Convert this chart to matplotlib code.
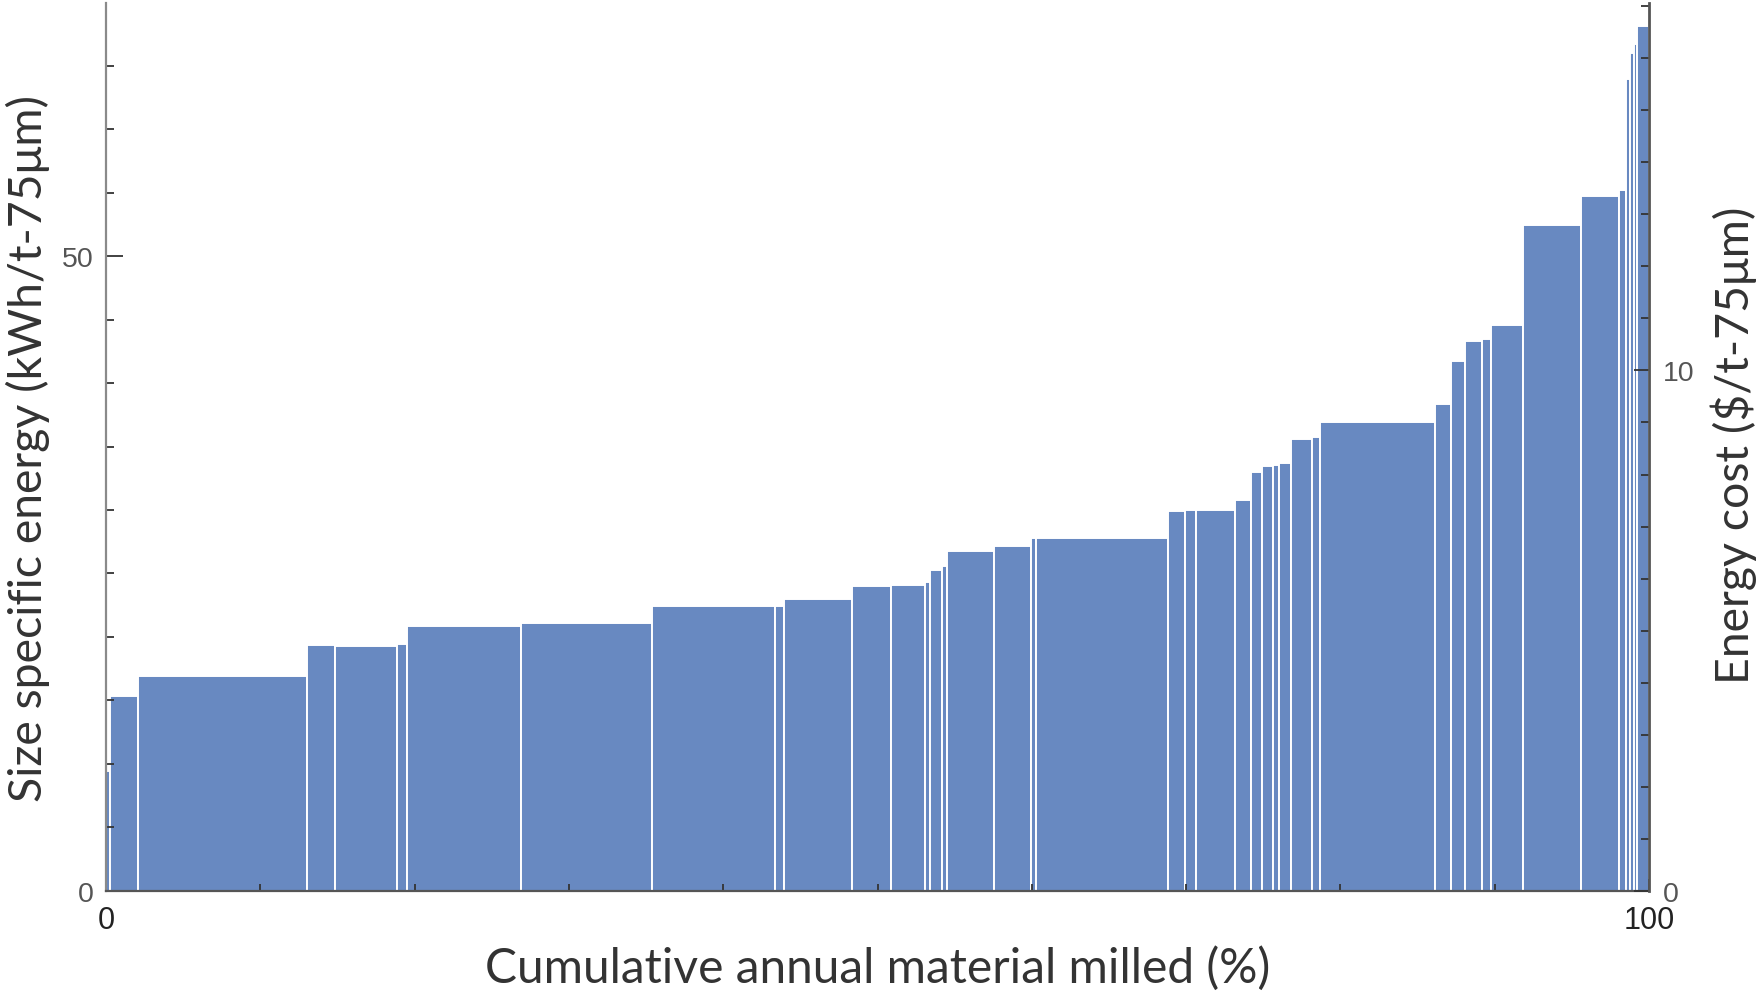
import matplotlib
matplotlib.use("Agg")
import matplotlib.pyplot as plt
import numpy as np
from matplotlib.ticker import MultipleLocator, FixedLocator

# Share of annual material milled per ore (%), sorted by size specific energy
material_share = [0.29, 1.80, 10.92, 1.85, 4.01, 0.65, 7.36, 8.52, 7.94, 0.60,
                  4.41, 2.51, 2.23, 0.34, 0.78, 0.29, 3.03, 2.39, 0.34, 8.57,
                  1.07, 0.75, 2.52, 1.06, 0.67, 0.76, 0.33, 0.80, 1.35, 0.54,
                  7.43, 1.03, 0.96, 1.10, 0.59, 2.02, 3.80, 2.46, 0.46, 0.26,
                  0.27, 0.18, 0.76]
# Size specific energy (kWh/t-75um)
sse = [9.46, 15.37, 16.94, 19.36, 19.31, 19.44, 20.88, 21.07, 22.41, 22.46,
       22.95, 23.99, 24.11, 24.30, 25.27, 25.61, 26.75, 27.19, 27.79, 27.78,
       29.90, 30.02, 30.02, 30.81, 33.02, 33.49, 33.57, 33.68, 35.60, 35.78,
       36.97, 38.39, 41.77, 43.34, 43.48, 44.62, 52.46, 54.77, 55.22, 63.96,
       65.99, 66.70, 68.17]
energy_price = 10 / 41.0   # $/kWh, links the two y axes

x_label = "Cumulative annual material milled (%)"
y_label = "Size specific energy (kWh/t-75\u03bcm)"
y2_label = "Energy cost ($/t-75\u03bcm)"

W, H, DPI = 1762, 995, 100
fig = plt.figure(figsize=(W / DPI, H / DPI), dpi=DPI)
ax = fig.add_axes([106 / W, 1 - 891.7 / H, 1543 / W, (891.7 - 3.5) / H])

share = np.array(material_share)
left_edges = np.concatenate([[0], np.cumsum(share)[:-1]])
scale = 100.0 / share.sum()
ax.bar(left_edges * scale, sse, width=share * scale, align="edge",
       color="#6889c1", edgecolor="white", linewidth=1.4)

ax.set_xlim(0, 100)
ax.set_ylim(0, 70)

label_font = "Lato"
tick_font = "Liberation Sans"

ax.spines["top"].set_visible(False)
ax.spines["right"].set_visible(False)
ax.spines["left"].set_color("#8a8a8a")
ax.spines["left"].set_linewidth(1.6)
ax.spines["bottom"].set_color("#555555")
ax.spines["bottom"].set_linewidth(1.6)

ax.xaxis.set_major_locator(FixedLocator([0, 100]))
ax.xaxis.set_minor_locator(MultipleLocator(10))
ax.yaxis.set_major_locator(FixedLocator([0, 50]))
ax.yaxis.set_minor_locator(FixedLocator([5, 10, 15, 20, 25, 30, 35, 40, 45, 55, 60, 65]))

ax.tick_params(axis="x", which="major", direction="in", length=9, width=1.3,
               color="#333333", pad=10, labelsize=22, labelcolor="#222222")
ax.tick_params(axis="x", which="minor", direction="in", length=5, width=1.3,
               color="#333333")
ax.tick_params(axis="y", which="major", direction="in", length=12, width=1.3,
               color="#333333", pad=9, labelsize=20.5, labelcolor="#555555")
ax.tick_params(axis="y", which="minor", direction="in", length=6, width=1.3,
               color="#333333")
for lab in ax.get_xticklabels() + ax.get_yticklabels():
    lab.set_fontfamily(tick_font)

ax2 = ax.twinx()
ax2.set_ylim(0, 70 * energy_price)
for s in ("top", "left", "bottom"):
    ax2.spines[s].set_visible(False)
ax2.spines["right"].set_color("#555555")
ax2.spines["right"].set_linewidth(2.0)
ax2.yaxis.set_major_locator(FixedLocator([0, 10]))
ax2.yaxis.set_minor_locator(MultipleLocator(1))
ax2.tick_params(axis="y", which="major", direction="in", length=11, width=1.3,
                color="#333333", pad=10, labelsize=20.5, labelcolor="#555555")
ax2.tick_params(axis="y", which="minor", direction="in", length=6, width=1.3,
                color="#333333")
for lab in ax2.get_yticklabels():
    lab.set_fontfamily(tick_font)

ax.set_xlabel(x_label, fontsize=34.5, family=label_font, color="#333333", va="center")
ax.xaxis.set_label_coords(0.5003, (891.7 - 969) / 888.2)
ax.set_ylabel(y_label, fontsize=33.4, family=label_font, color="#333333", va="center")
ax.yaxis.set_label_coords((28 - 106) / 1543, (891.7 - 448) / 888.2)
ax2.set_ylabel(y2_label, fontsize=33.4, family=label_font, color="#333333",
               va="center", rotation=90)
ax2.yaxis.set_label_coords((1734 - 106) / 1543, (891.7 - 445) / 888.2)

fig.savefig("out.png", dpi=DPI)
